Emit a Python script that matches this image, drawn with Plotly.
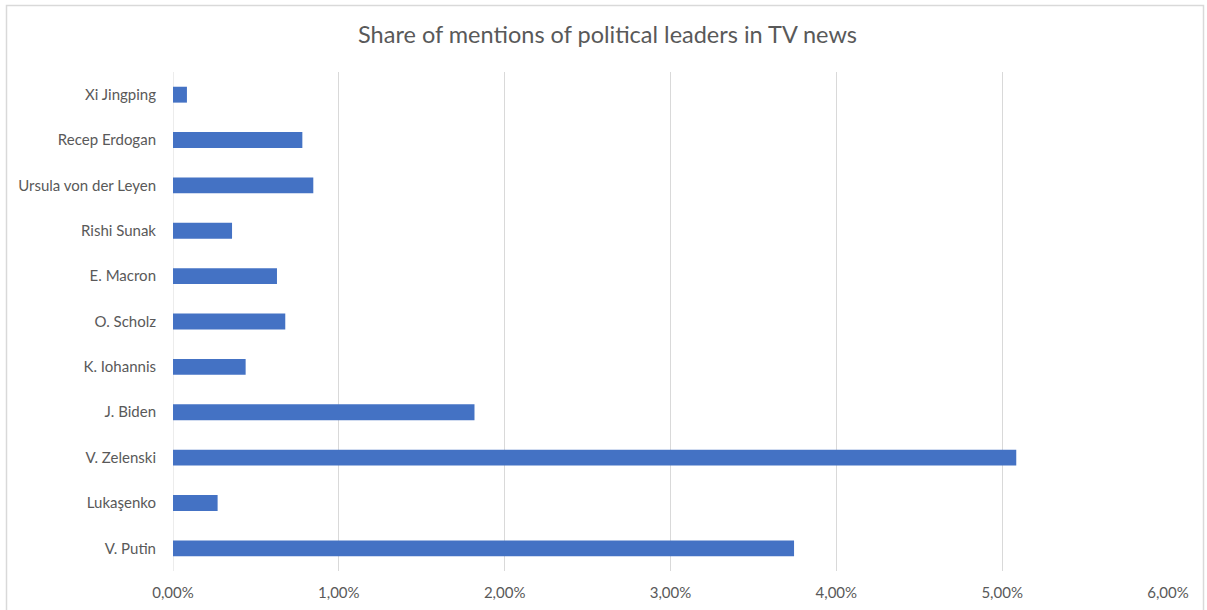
import plotly.graph_objects as go

# Leaders listed top to bottom as shown on the chart
leaders = [
    "Xi Jingping",
    "Recep Erdogan",
    "Ursula von der Leyen",
    "Rishi Sunak",
    "E. Macron",
    "O. Scholz",
    "K. Iohannis",
    "J. Biden",
    "V. Zelenski",
    "Lukaşenko",
    "V. Putin",
]
# Share of mentions, in percent
share_pct = [0.084, 0.78, 0.846, 0.356, 0.627, 0.677, 0.438, 1.818, 5.085, 0.269, 3.745]

tick_vals = [0, 1, 2, 3, 4, 5, 6]
tick_text = ["0,00%", "1,00%", "2,00%", "3,00%", "4,00%", "5,00%", "6,00%"]

FONT = "Lato, 'Open Sans', sans-serif"
GREY_TEXT = "#595959"
GRID = "#d9d9d9"

fig = go.Figure(
    go.Bar(
        x=share_pct,
        y=leaders,
        orientation="h",
        marker=dict(color="#4472C4", line=dict(width=0)),
        hovertemplate="%{y}: %{x:.2f}%<extra></extra>",
    )
)

fig.update_layout(
    width=1207,
    height=610,
    margin=dict(l=173, r=39, t=72, b=39, autoexpand=False),
    paper_bgcolor="white",
    plot_bgcolor="white",
    bargap=0.65,
    showlegend=False,
    title=dict(
        text="Share of mentions of political leaders in TV news",
        x=(607.5 / 1207),
        xanchor="center",
        y=1 - 35 / 610,
        yanchor="middle",
        font=dict(family=FONT, size=23.5, color=GREY_TEXT),
    ),
    font=dict(family=FONT, color=GREY_TEXT),
)

fig.update_xaxes(
    range=[0, 6],
    tickvals=tick_vals,
    ticktext=tick_text,
    showgrid=True,
    gridcolor=GRID,
    gridwidth=1,
    zeroline=False,
    showline=False,
    ticks="",
    automargin=False,
    ticklabelstandoff=11,
    tickfont=dict(family=FONT, size=15, color=GREY_TEXT),
    fixedrange=True,
)

fig.update_yaxes(
    categoryorder="array",
    categoryarray=leaders[::-1],
    range=[-0.5, len(leaders) - 0.5],
    showgrid=False,
    zeroline=False,
    showline=False,
    ticks="",
    automargin=False,
    ticklabelstandoff=16,
    tickfont=dict(family=FONT, size=15, color=GREY_TEXT),
    fixedrange=True,
)

# Zero line at the left edge of the plot
fig.add_shape(
    type="line", xref="x", yref="paper",
    x0=0, x1=0, y0=0, y1=1,
    line=dict(color=GRID, width=1),
    layer="below",
)

# Light frame around the whole chart
fig.add_shape(
    type="rect", xref="paper", yref="paper",
    x0=(6.5 - 173) / 995, x1=(1203.5 - 173) / 995,
    y0=(571 - 615) / 499, y1=(571 - 5.5) / 499,
    line=dict(color=GRID, width=1.5),
    fillcolor="rgba(0,0,0,0)",
    layer="below",
)

fig.write_html("out.html", config={"displayModeBar": False})
